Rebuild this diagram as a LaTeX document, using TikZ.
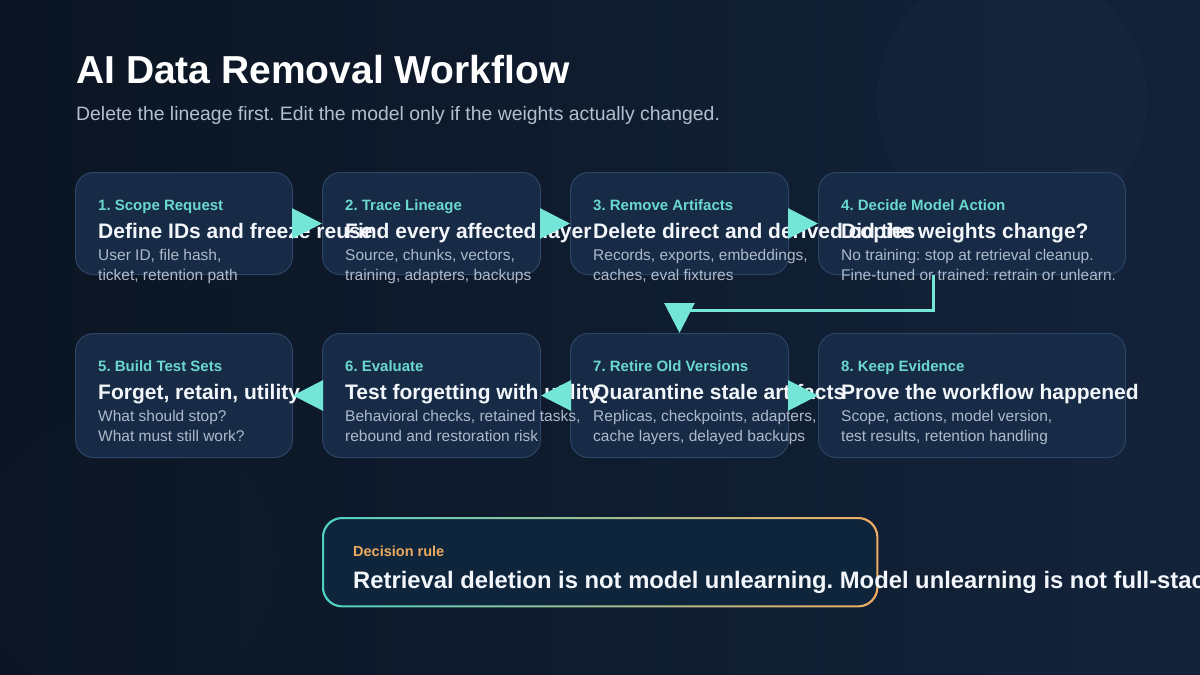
\documentclass[tikz,border=0pt]{standalone}
\usepackage{fontspec}
\setmainfont{Liberation Sans}
\usetikzlibrary{arrows.meta}
\frenchspacing
\definecolor{bgA}{HTML}{0B1523}
\definecolor{bgB}{HTML}{13233A}
\definecolor{boxfill}{HTML}{172B46}
\definecolor{boxline}{HTML}{2C4565}
\definecolor{accentc}{HTML}{74E6D8}
\definecolor{labelc}{HTML}{6BD8CE}
\definecolor{headc}{HTML}{F3F6FA}
\definecolor{descc}{HTML}{AEBACB}
\definecolor{subc}{HTML}{B4C0CF}
\definecolor{rulec}{HTML}{E9A95E}
\definecolor{decfill}{HTML}{0F253C}
\definecolor{decL}{HTML}{4FD1C3}
\definecolor{decM}{HTML}{B9C49A}
\definecolor{decR}{HTML}{F0AC62}
\tikzset{
  stepbox/.style={draw=boxline, fill=boxfill, line width=1pt, rounded corners=18pt, inner sep=0pt, anchor=north west},
  labtxt/.style={anchor=base west, inner sep=0pt, text=labelc, font=\fontsize{15}{17}\selectfont\bfseries},
  headtxt/.style={anchor=base west, inner sep=0pt, text=headc, font=\fontsize{21}{25}\selectfont\bfseries},
  desctxt/.style={anchor=base west, inner sep=0pt, text=descc, font=\fontsize{15.5}{20}\selectfont},
  flow/.style={draw=accentc, line width=3pt, -{Triangle[length=30pt,width=30pt]}},
}
\newcommand\StepBox[5]{%
  \node[stepbox, minimum width=#4pt, minimum height=#5pt] (#1) at (#2,#3) {};
}
\newcommand\StepText[5]{%
  \node[labtxt] (#1l) at ([xshift=23pt,yshift=-38pt]#1.north west) {#2};
  \node[headtxt] (#1h) at ([xshift=23pt,yshift=-66pt]#1.north west) {#3};
  \node[desctxt] (#1a) at ([xshift=23pt,yshift=-88pt]#1.north west) {#4};
  \node[desctxt] (#1b) at ([xshift=23pt,yshift=-108pt]#1.north west) {#5};
}
\begin{document}
\begin{tikzpicture}[x=1pt,y=-1pt]
\useasboundingbox (0,0) rectangle (1200,675);
\begin{scope}
\clip (0,0) rectangle (1200,675);
\shade[left color=bgA, right color=bgB] (0,0) rectangle (1200,675);
\fill[white, opacity=0.014] (1012,100) circle (135);
\fill[white, opacity=0.006] (130,560) circle (150);

\node[anchor=base west, inner sep=0pt, text=white, font=\fontsize{39}{44}\selectfont\bfseries] (title) at (76,83) {AI Data Removal Workflow};
\node[anchor=base west, inner sep=0pt, text=subc, font=\fontsize{19.4}{23}\selectfont] (sub) at (76,120) {Delete the lineage first. Edit the model only if the weights actually changed.};

\StepBox{b1}{75}{172}{217}{102}
\StepBox{b2}{322}{172}{218}{102}
\StepBox{b3}{570}{172}{218}{102}
\StepBox{b4}{818}{172}{307}{102}
\StepBox{b5}{75}{333}{217}{124}
\StepBox{b6}{322}{333}{218}{124}
\StepBox{b7}{570}{333}{218}{124}
\StepBox{b8}{818}{333}{307}{124}

\StepText{b1}{1. Scope Request}{Define IDs and freeze reuse}{User ID, file hash,}{ticket, retention path}
\StepText{b2}{2. Trace Lineage}{Find every affected layer}{Source, chunks, vectors,}{training, adapters, backups}
\StepText{b3}{3. Remove Artifacts}{Delete direct and derived copies}{Records, exports, embeddings,}{caches, eval fixtures}
\StepText{b4}{4. Decide Model Action}{Did the weights change?}{No training: stop at retrieval cleanup.}{Fine-tuned or trained: retrain or unlearn.}
\StepText{b5}{5. Build Test Sets}{Forget, retain, utility}{What should stop?}{What must still work?}
\StepText{b6}{6. Evaluate}{Test forgetting with utility}{Behavioral checks, retained tasks,}{rebound and restoration risk}
\StepText{b7}{7. Retire Old Versions}{Quarantine stale artifacts}{Replicas, checkpoints, adapters,}{cache layers, delayed backups}
\StepText{b8}{8. Keep Evidence}{Prove the workflow happened}{Scope, actions, model version,}{test results, retention handling}

\draw[flow] (b1.east) -- (b2.west);
\draw[flow] (b2.east) -- (b3.west);
\draw[flow] (b3.east) -- (b4.west);
\coordinate (bend) at (933,310);
\draw[flow] (b4.south -| bend) -- (bend) -- (bend -| b7.north) -- (b7.north);
\draw[flow] (b6.west) -- (b5.east);
\draw[flow] (b7.west) -- (b6.east);
\draw[flow] (b7.east) -- (b8.west);

\node[anchor=north west, inner sep=0pt, minimum width=556pt, minimum height=90pt, fill=decfill, rounded corners=20pt] (dec) at (322,517) {};
\shade[left color=decL, middle color=decM, right color=decR, even odd rule]
  [rounded corners=20pt] (dec.north west) rectangle (dec.south east)
  [rounded corners=18.5pt] ([xshift=2pt,yshift=-2pt]dec.north west) rectangle ([xshift=-2pt,yshift=2pt]dec.south east);
\node[anchor=base west, inner sep=0pt, text=rulec, font=\fontsize{14.5}{17}\selectfont\bfseries] (decl) at ([xshift=31pt,yshift=-39pt]dec.north west) {Decision rule};
\node[anchor=base west, inner sep=0pt, text=headc, font=\fontsize{23.8}{27}\selectfont\bfseries] (dect) at ([xshift=31pt,yshift=-71pt]dec.north west) {Retrieval deletion is not model unlearning. Model unlearning is not full-stack deletion.};
\end{scope}
\end{tikzpicture}
\end{document}
